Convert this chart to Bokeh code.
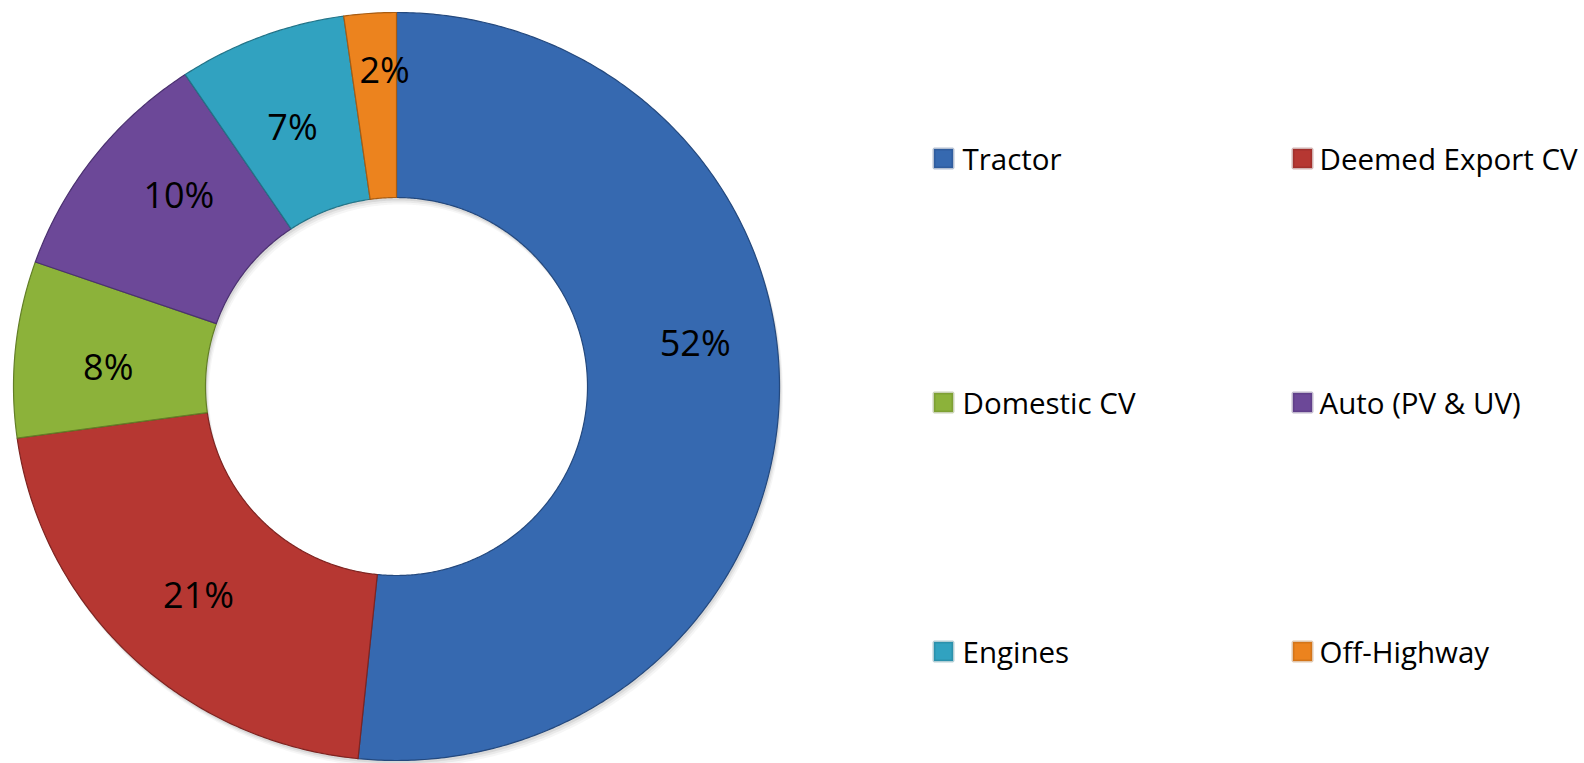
import math
from bokeh.plotting import figure
from bokeh.models import ColumnDataSource, Range1d
from bokeh.core.properties import value
from bokeh.embed import file_html
from bokeh.resources import INLINE

# ---- data ----
categories = ["Tractor", "Deemed Export CV", "Domestic CV", "Auto (PV & UV)", "Engines", "Off-Highway"]
shares = [51.6, 21.2, 7.6, 10.3, 7.1, 2.2]
labels = [f"{round(s)}%" for s in shares]            # 52%, 21%, 8%, 10%, 7%, 2%
colors = ["#3669B0", "#B63732", "#8CB23A", "#6C4898", "#31A2C0", "#EC831E"]
edge_colors = ["#24497E", "#7E2421", "#637F27", "#4B3170", "#237488", "#A85C12"]

# ---- styling / layout (not data) ----
W, H = 1584, 763
CX, CY = 396, 377            # donut centre (data units = px, y up)
RX_OUT, RY_OUT = 383, 374
RX_IN, RY_IN = 191, 189
LABEL_R = [302, 287, 289, 290, 280, 317]
LABEL_NUDGE_DEG = [-11.3, -0.3, -1.7, 3.4, -1.1, 1.8]


def ring_sector(a0, a1, cx, cy, rxo, ryo, rxi, ryi, n=120):
    """angles measured clockwise from 12 o'clock (radians)"""
    steps = max(4, int(n * (a1 - a0) / (2 * math.pi)) + 2)
    outer = [a0 + (a1 - a0) * k / steps for k in range(steps + 1)]
    xs = [cx + rxo * math.sin(a) for a in outer] + [cx + rxi * math.sin(a) for a in reversed(outer)]
    ys = [cy + ryo * math.cos(a) for a in outer] + [cy + ryi * math.cos(a) for a in reversed(outer)]
    return xs, ys


total = float(sum(shares))
xs_all, ys_all, lx, ly = [], [], [], []
cum = 0.0
for i, s in enumerate(shares):
    a0 = cum / total * 2 * math.pi
    cum += s
    a1 = cum / total * 2 * math.pi
    xs, ys = ring_sector(a0, a1, CX, CY, RX_OUT, RY_OUT, RX_IN, RY_IN, n=720)
    xs_all.append(xs); ys_all.append(ys)
    mid = (a0 + a1) / 2 + math.radians(LABEL_NUDGE_DEG[i])
    lx.append(CX + LABEL_R[i] * math.sin(mid))
    ly.append(CY + LABEL_R[i] * math.cos(mid))

src = ColumnDataSource(dict(cat=categories, share=shares, xs=xs_all, ys=ys_all,
                            color=colors, edge=edge_colors, lx=lx, ly=ly, ltxt=labels))

p = figure(width=W, height=H, output_backend="svg", toolbar_location=None,
           x_range=Range1d(0, W), y_range=Range1d(0, H), min_border=0)
p.axis.visible = False
p.grid.visible = False
p.outline_line_color = None
p.background_fill_color = "white"

# soft shadow behind the ring
for off, alpha in [(7, 0.035), (5, 0.05), (3, 0.07)]:
    sx, sy = ring_sector(0, 2 * math.pi, CX + off * 0.5, CY - off, RX_OUT, RY_OUT, RX_IN, RY_IN, n=720)
    p.patch(sx, sy, fill_color="#000000", fill_alpha=alpha, line_color=None)

p.patches(xs="xs", ys="ys", source=src, fill_color="color", line_color="edge",
          line_width=1.2, line_join="round")

p.text(x="lx", y="ly", text="ltxt", source=src, text_align="center", text_baseline="middle",
       text_font=value("Open Sans"), text_font_size="36px", text_color="#000000")

# ---- legend (2 columns x 3 rows) ----
col_marker_x = [943, 1302]
col_text_x = [962, 1319]
row_y = [605, 361, 112]
mx, my, tx, ty = [], [], [], []
for i in range(len(categories)):
    r, c = divmod(i, 2)
    mx.append(col_marker_x[c]); my.append(row_y[r])
    tx.append(col_text_x[c]); ty.append(row_y[r])
lsrc = ColumnDataSource(dict(mx=mx, my=my, tx=tx, ty=ty, cat=categories,
                             color=colors, edge=edge_colors))
p.scatter(x="mx", y="my", source=lsrc, marker="square", size=19,
          fill_color="color", line_color="edge", line_alpha=0.35, line_width=3)
p.text(x="tx", y="ty", text="cat", source=lsrc, text_align="left", text_baseline="middle",
       text_font=value("Open Sans"), text_font_size="29.5px", text_color="#000000")

open("out.html", "w").write(file_html(p, INLINE))
